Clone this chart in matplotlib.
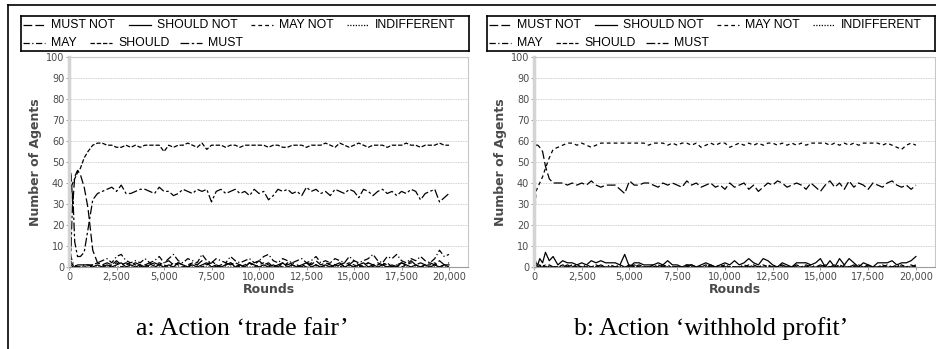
import matplotlib
matplotlib.use("Agg")
import matplotlib.pyplot as plt
from matplotlib.lines import Line2D

# rounds at which the agent counts were sampled
rounds = [0, 50, 100, 200, 300, 450, 600, 800, 1000, 1250] + list(range(1500, 20001, 250))

labels = ["MUST NOT", "SHOULD NOT", "MAY NOT", "INDIFFERENT", "MAY", "SHOULD", "MUST"]

# panel a: action 'trade fair'
a_must_not = [0, 40, 45, 30, 43, 46, 44, 38, 28, 8,
              2, 1, 2, 1, 3, 1, 2, 1, 2, 1,
              1, 2, 0, 1, 2, 3, 1, 2, 1, 0,
              2, 1, 3, 1, 2, 0, 1, 2, 1, 2,
              1, 0, 2, 1, 3, 1, 2, 0, 1, 2,
              1, 2, 1, 0, 2, 1, 3, 1, 2, 1,
              0, 1, 2, 1, 3, 1, 0, 2, 1, 2,
              1, 2, 0, 1, 2, 1, 3, 1, 2, 1,
              2, 1, 3, 1, 2]
a_should_not = [2, 5, 1, 0, 0, 1, 1, 1, 1, 0,
                1, 0, 1, 0, 1, 2, 0, 1, 0, 1,
                0, 1, 2, 1, 0, 1, 0, 2, 1, 0,
                1, 0, 1, 2, 0, 1, 0, 1, 2, 0,
                1, 0, 2, 1, 0, 1, 0, 1, 0, 2,
                0, 1, 0, 1, 2, 0, 1, 0, 1, 0,
                1, 2, 0, 1, 0, 1, 2, 0, 1, 0,
                1, 0, 1, 0, 2, 1, 0, 1, 0, 1,
                0, 1, 0, 1, 1]
a_may_not = [1, 3, 2, 1, 0, 0, 0, 0, 0, 1,
             2, 1, 0, 1, 2, 0, 1, 2, 1, 0,
             1, 0, 1, 2, 1, 0, 2, 1, 0, 1,
             2, 1, 0, 1, 3, 1, 0, 1, 2, 1,
             0, 1, 2, 0, 1, 2, 1, 0, 1, 0,
             2, 1, 0, 1, 0, 2, 1, 0, 1, 2,
             1, 0, 1, 2, 1, 0, 1, 2, 0, 1,
             2, 1, 0, 1, 0, 1, 2, 1, 0, 1,
             1, 2, 0, 1, 0]
a_indifferent = [55, 10, 3, 1, 0, 0, 0, 0, 0, 0,
                 0, 0, 0, 0, 0, 0, 0, 0, 0, 0,
                 0, 0, 0, 0, 0, 0, 0, 0, 0, 0,
                 0, 0, 0, 0, 0, 0, 0, 0, 0, 0,
                 0, 0, 0, 0, 0, 0, 0, 0, 0, 0,
                 0, 0, 0, 0, 0, 0, 0, 0, 0, 0,
                 0, 0, 0, 0, 0, 0, 0, 0, 0, 0,
                 0, 0, 0, 0, 0, 0, 0, 0, 0, 0,
                 0, 0, 0, 0, 0]
a_may = [10, 20, 5, 2, 1, 0, 0, 1, 1, 1,
         2, 3, 4, 2, 5, 6, 3, 2, 3, 2,
         4, 2, 3, 5, 2, 4, 6, 3, 2, 4,
         3, 2, 6, 3, 2, 4, 3, 2, 5, 3,
         2, 3, 4, 2, 3, 5, 6, 3, 2, 4,
         3, 2, 3, 4, 2, 3, 5, 2, 3, 2,
         4, 3, 2, 5, 3, 2, 3, 4, 6, 3,
         2, 5, 4, 6, 3, 2, 4, 3, 5, 3,
         2, 4, 8, 5, 6]
a_should = [0, 25, 38, 40, 42, 45, 47, 52, 55, 58,
            59, 59, 58, 58, 57, 57, 58, 57, 58, 57,
            58, 58, 58, 58, 55, 58, 57, 58, 58, 59,
            58, 57, 59, 56, 58, 58, 58, 57, 58, 58,
            57, 58, 58, 58, 58, 58, 57, 58, 58, 57,
            57, 58, 58, 58, 57, 58, 58, 58, 59, 58,
            57, 59, 58, 57, 58, 59, 58, 57, 58, 58,
            58, 57, 58, 58, 58, 59, 58, 58, 57, 58,
            58, 58, 59, 58, 58]
a_must = [0, 30, 8, 35, 12, 5, 5, 7, 18, 32,
          35, 36, 37, 38, 36, 39, 35, 35, 36, 37,
          37, 36, 35, 38, 36, 36, 34, 35, 37, 36,
          35, 37, 36, 37, 31, 36, 37, 35, 36, 37,
          35, 36, 34, 37, 35, 36, 32, 34, 37, 36,
          37, 35, 36, 34, 38, 36, 37, 35, 36, 34,
          37, 36, 35, 37, 36, 33, 37, 36, 34, 36,
          37, 35, 36, 34, 36, 35, 37, 36, 32, 35,
          36, 37, 31, 33, 35]

# panel b: action 'withhold profit'
b_must_not = [59, 59, 58, 58, 57, 55, 48, 42, 40, 40,
              40, 39, 40, 39, 40, 39, 41, 39, 38, 39,
              39, 39, 37, 35, 41, 39, 39, 40, 40, 39,
              38, 40, 39, 40, 39, 38, 41, 39, 40, 38,
              39, 40, 38, 39, 37, 40, 38, 39, 40, 37,
              39, 36, 38, 40, 39, 41, 40, 38, 39, 40,
              39, 37, 40, 38, 36, 39, 41, 38, 40, 37,
              41, 38, 40, 39, 37, 40, 39, 38, 40, 41,
              39, 38, 39, 37, 39]
b_should_not = [6, 4, 2, 1, 4, 2, 7, 3, 5, 1,
                3, 2, 2, 1, 2, 1, 3, 2, 3, 2,
                2, 2, 1, 6, 0, 2, 2, 1, 1, 1,
                2, 1, 3, 1, 1, 0, 1, 1, 0, 1,
                2, 1, 0, 1, 2, 1, 3, 1, 2, 4,
                2, 1, 4, 3, 1, 0, 2, 1, 0, 2,
                2, 2, 1, 2, 4, 0, 3, 0, 4, 1,
                4, 2, 0, 2, 1, 0, 2, 2, 2, 3,
                1, 2, 2, 3, 5]
b_may_not = [0, 25, 36, 38, 40, 43, 47, 52, 56, 57,
             58, 59, 59, 58, 59, 58, 57, 58, 59, 59,
             59, 59, 59, 59, 59, 59, 59, 59, 58, 59,
             59, 59, 58, 59, 58, 59, 59, 58, 59, 57,
             58, 59, 58, 59, 59, 57, 58, 59, 58, 59,
             58, 59, 58, 59, 59, 58, 59, 58, 59, 58,
             59, 58, 59, 59, 59, 59, 58, 59, 58, 59,
             58, 59, 58, 59, 59, 59, 59, 58, 59, 58,
             57, 56, 58, 59, 58]
b_indifferent = [30, 5, 1, 0, 0, 0, 0, 0, 0, 0,
                 0, 0, 0, 0, 0, 0, 0, 0, 0, 0,
                 0, 0, 0, 0, 0, 0, 0, 0, 0, 0,
                 0, 0, 0, 0, 0, 0, 0, 0, 0, 0,
                 0, 0, 0, 0, 0, 0, 0, 0, 0, 0,
                 0, 0, 0, 0, 0, 0, 0, 0, 0, 0,
                 0, 0, 0, 0, 0, 0, 0, 0, 0, 0,
                 0, 0, 0, 0, 0, 0, 0, 0, 0, 0,
                 0, 0, 0, 0, 0]
b_may = [3, 1, 0, 1, 0, 0, 1, 0, 0, 0,
         0, 1, 0, 0, 0, 1, 0, 0, 0, 0,
         1, 0, 0, 0, 0, 0, 1, 0, 0, 0,
         0, 0, 1, 0, 0, 0, 0, 1, 0, 0,
         0, 1, 0, 0, 0, 0, 0, 0, 1, 0,
         0, 0, 0, 1, 0, 0, 0, 0, 0, 1,
         0, 0, 1, 0, 0, 0, 0, 1, 0, 0,
         0, 0, 0, 0, 1, 0, 0, 0, 0, 0,
         1, 0, 0, 0, 0]
b_should = [2, 1, 1, 0, 1, 0, 0, 1, 0, 0,
            1, 0, 0, 1, 0, 0, 0, 1, 0, 0,
            0, 0, 1, 0, 0, 1, 0, 0, 0, 1,
            0, 1, 0, 0, 0, 0, 1, 0, 0, 0,
            1, 0, 0, 0, 1, 0, 0, 0, 0, 1,
            0, 0, 1, 0, 0, 0, 1, 0, 0, 0,
            0, 1, 0, 0, 0, 1, 0, 0, 1, 0,
            0, 0, 1, 0, 0, 0, 0, 1, 0, 0,
            0, 1, 0, 0, 1]
b_must = [1, 0, 0, 0, 0, 1, 0, 0, 0, 0,
          0, 0, 1, 0, 0, 0, 0, 0, 1, 0,
          0, 0, 0, 0, 1, 0, 0, 0, 0, 0,
          1, 0, 0, 0, 0, 0, 0, 1, 0, 0,
          0, 0, 0, 1, 0, 0, 0, 0, 0, 0,
          1, 0, 0, 0, 0, 0, 1, 0, 0, 0,
          0, 0, 0, 0, 1, 0, 0, 0, 0, 1,
          0, 1, 0, 0, 0, 0, 0, 0, 1, 0,
          0, 0, 0, 1, 0]

panel_a = [a_must_not, a_should_not, a_may_not, a_indifferent, a_may, a_should, a_must]
panel_b = [b_must_not, b_should_not, b_may_not, b_indifferent, b_may, b_should, b_must]

dashes = [(7, 2.5), None, (3, 2.5), (1, 1.2), (5, 2, 1, 2), (3.5, 1.5), (7, 2, 2, 2)]

W, H = 936, 349
fig = plt.figure(figsize=(W / 100, H / 100), dpi=100)
fig.patch.set_facecolor("white")

def fx(px):
    return px / W

def fy(py):
    return 1 - py / H

tick_grey = "#4a4a4a"

def draw_panel(data, plot_box, legend_box, caption, cap_x):
    x0, y0, x1, y1 = plot_box
    ax = fig.add_axes([fx(x0), fy(y1), fx(x1 - x0), (y1 - y0) / H])
    for vals, d in zip(data, dashes):
        line, = ax.plot(rounds, vals, color="black", lw=0.9)
        if d is not None:
            line.set_dashes(d)
    ax.set_xlim(0, 21000)
    ax.set_ylim(0, 100)
    ax.set_xticks([0, 2500, 5000, 7500, 10000, 12500, 15000, 17500, 20000])
    ax.set_xticklabels(["0", "2,500", "5,000", "7,500", "10,000", "12,500",
                        "15,000", "17,500", "20,000"])
    ax.set_yticks(range(0, 101, 10))
    ax.tick_params(labelsize=7, colors="#888888", labelcolor=tick_grey,
                   length=2, width=0.6, pad=1.5)
    ax.yaxis.grid(True, color="#c0c0c0", ls=(0, (1, 1)), lw=0.6)
    for s in ["top", "right"]:
        ax.spines[s].set_color("#c8c8c8")
        ax.spines[s].set_linewidth(0.8)
    ax.spines["left"].set_color("#d4d4d4")
    ax.spines["left"].set_linewidth(2.5)
    ax.spines["bottom"].set_color("#9a9a9a")
    ax.spines["bottom"].set_linewidth(0.8)
    ax.set_ylabel("Number of Agents", fontsize=9, fontweight="bold",
                  color=tick_grey, labelpad=3)
    ax.set_xlabel("Rounds", fontsize=9, fontweight="bold", color=tick_grey,
                  labelpad=1)

    # legend box drawn by hand so the entries flow like the original
    lx0, ly0, lx1, ly1 = legend_box
    lg = fig.add_axes([fx(lx0), fy(ly1), fx(lx1 - lx0), (ly1 - ly0) / H])
    lg.set_xlim(0, lx1 - lx0)
    lg.set_ylim(ly1 - ly0, 0)
    lg.set_xticks([])
    lg.set_yticks([])
    for s in lg.spines.values():
        s.set_linewidth(1.2)
    text_x = [30, 136, 258, 354, 30, 97, 187]
    rows = [9, 9, 9, 9, 27, 27, 27]
    for lab, d, tx, ty in zip(labels, dashes, text_x, rows):
        hl, = lg.plot([tx - 28, tx - 6], [ty, ty], color="black", lw=0.9)
        if d is not None:
            hl.set_dashes(d)
        lg.text(tx, ty, lab, fontsize=8.8, family="Liberation Sans",
                va="center", ha="left")

    fig.text(fx(cap_x), fy(329), caption, fontsize=18.5,
             family="Liberation Serif", ha="center", va="center")

draw_panel(panel_a, (69, 57, 468, 267), (21, 16, 469, 51),
           "a: Action \u2018trade fair\u2019", 242)
draw_panel(panel_b, (534, 57, 935, 267), (487, 16, 935, 51),
           "b: Action \u2018withhold profit\u2019", 711)

# outer frame (only top and left edges visible)
fig.add_artist(Line2D([fx(8), fx(8)], [0, fy(5)], color="black", lw=1.2,
                      transform=fig.transFigure))
fig.add_artist(Line2D([fx(8), 1], [fy(5), fy(5)], color="black", lw=1.2,
                      transform=fig.transFigure))

fig.savefig("out.png", dpi=100)
